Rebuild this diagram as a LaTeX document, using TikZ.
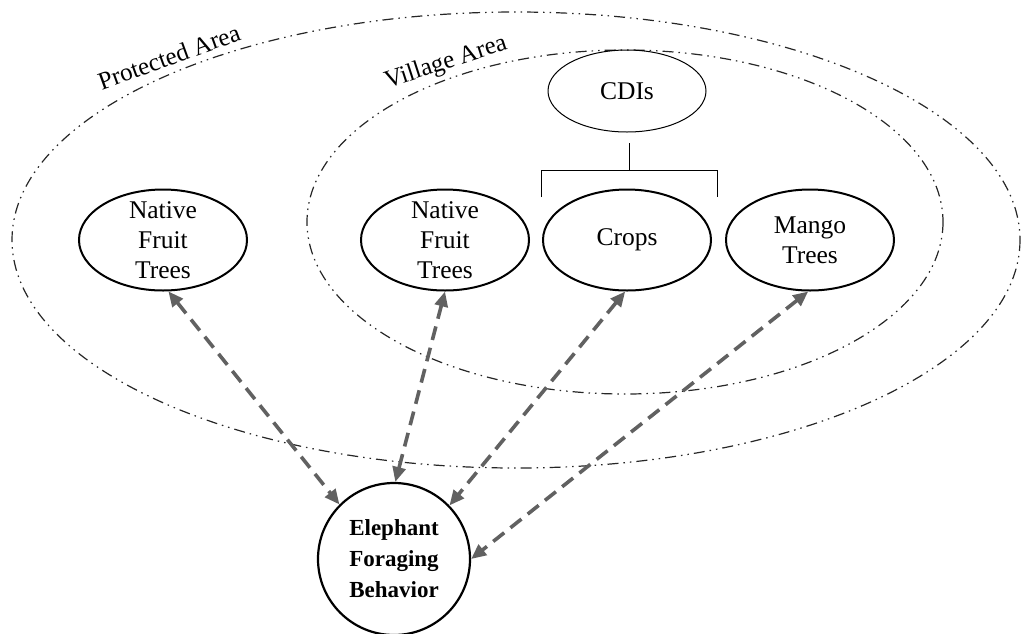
\documentclass[tikz,border=0pt]{standalone}
\usepackage{fontspec}
\setmainfont{Liberation Serif}
\usetikzlibrary{shapes.geometric,arrows.meta}

\tikzset{
  zone/.style={draw=black!85, line width=1.2pt,
    dash pattern=on 11pt off 5pt on 1.5pt off 5pt on 1.5pt off 5pt},
  zonelabel/.style={font=\fontsize{25}{30}\selectfont, inner sep=0pt},
  item/.style={ellipse, draw, line width=2pt, inner sep=0pt,
    minimum width=168pt, minimum height=101pt},
  itemtext/.style={font=\fontsize{25.5}{30}\selectfont, align=center},
  cdibox/.style={ellipse, draw, line width=1pt, inner sep=0pt,
    minimum width=158pt, minimum height=82pt,
    font=\fontsize{25.5}{30}\selectfont},
  bracket/.style={draw, line width=1pt},
  link/.style={draw=black!62, line width=3.6pt,
    dash pattern=on 14pt off 8pt,
    {Triangle[length=15pt,width=13pt]}-{Triangle[length=15pt,width=13pt]}},
}

\begin{document}
\begin{tikzpicture}[x=1pt,y=-1pt]
  \useasboundingbox (0,0) rectangle (1021,633);

  % protected area and village area boundaries
  \draw[zone] (516,240) ellipse [x radius=504, y radius=228];
  \draw[zone] (625,222) ellipse [x radius=318, y radius=172];
  \node[zonelabel, rotate=20] (protlabel) at (169,57) {Protected Area};
  \node[zonelabel, rotate=18] (villlabel) at (446,63) {Village Area};

  % resource nodes
  \node[item, label={[itemtext]center:{Native\\Fruit\\Trees}}] (nftout) at (163,240) {};
  \node[item, label={[itemtext]center:{Native\\Fruit\\Trees}}] (nftin) at (445,240) {};
  \node[item, label={[itemtext]center:{Crops}}] (crops) at (627,240) {};
  \node[item, label={[itemtext]center:{Mango\\Trees}}] (mango) at (810,240) {};

  % CDIs and its bracket over the crops
  \node[cdibox] (cdis) at (627,91) {CDIs};
  \coordinate (brtop) at (629,143);
  \coordinate (brmid) at (629,170);
  \coordinate (brl) at (541,170);
  \coordinate (brr) at (717,170);
  \coordinate (brlend) at (541,197);
  \coordinate (brrend) at (717,197);
  \draw[bracket] (brtop) -- (brmid);
  \draw[bracket] (brlend) -- (brl) -- (brr) -- (brrend);

  % central node
  \node[circle, draw, line width=2.2pt, minimum size=152pt, inner sep=0pt,
        font=\fontsize{23}{31}\selectfont\bfseries, align=center]
        (elephant) at (394,559) {Elephant\\Foraging\\Behavior};

  % two-way links
  \draw[link] (nftout.276) -- (elephant.135);
  \draw[link] (nftin.270) -- (elephant.89);
  \draw[link] (crops.268) -- (elephant.44);
  \draw[link] (mango.268) -- (elephant.0);
\end{tikzpicture}
\end{document}
